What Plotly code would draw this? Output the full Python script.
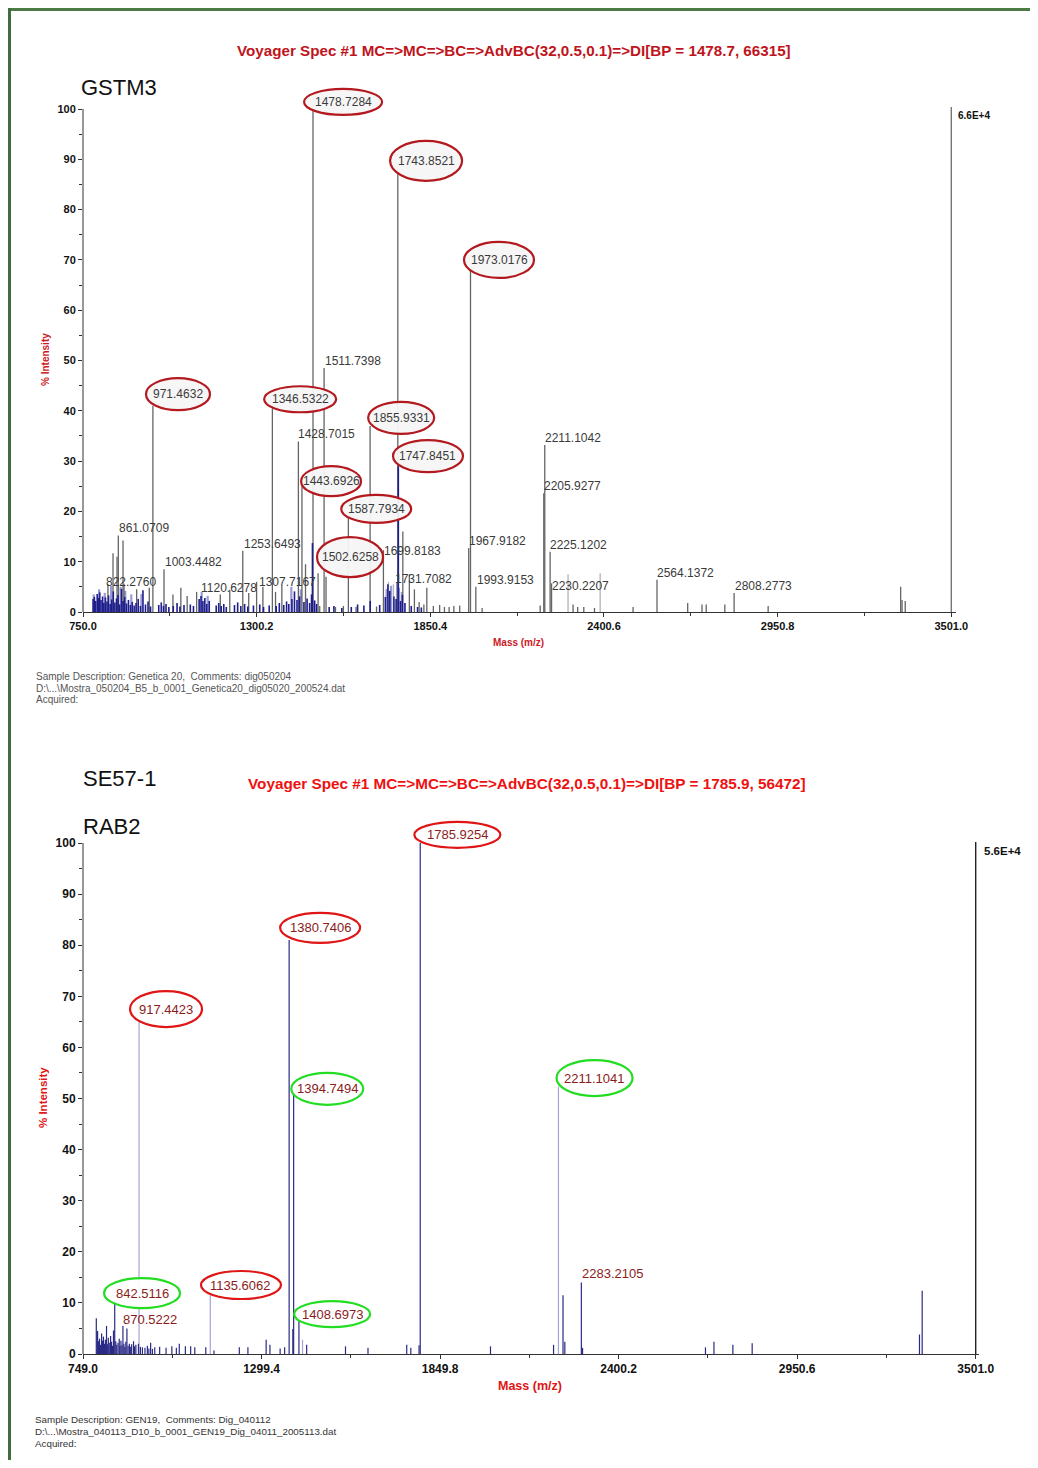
import plotly.graph_objects as go

# page body has an 8px margin: the figure is sized so that it fits in the window
OFF = 8
FW, FH = 1022, 1452

# ===================== DATA : top spectrum (GSTM3) =====================
top_gray_mz = [971.46, 861.9, 876.8, 845.1, 857.8, 1006.7, 1256.2, 1350.0, 1432.4, 1443.7,
               1478.73, 1494.8, 1513.8, 1590.8, 1659.6, 1701.8, 1747.4, 1763.3, 1839.3, 1972.0,
               1977.7, 1994.6, 2209.8, 2213.0, 2230.0, 2234.5, 2568.6, 2812.9, 3340.6, 3345.0,
               3355.0, 2665.8, 2711.2, 2724.5, 2783.5, 2920.7, 2492.8, 2302.6, 2317.2, 2336.6,
               1943.6, 1895.1, 2198.4, 2014.5, 2370.5, 829, 880, 920, 960, 1035, 1060, 1080,
               1110, 1185, 1215, 1275, 1300, 1320, 1360, 1380, 1455, 1500, 1520, 1550, 1575,
               1615, 1680, 1784, 1800, 1815, 1830, 1860, 1880, 1910, 1925]
top_gray_int = [41.0, 15.2, 14.2, 11.7, 11.0, 8.5, 12.2, 40.5, 33.9, 25.0,
                100.0, 7.7, 48.5, 18.7, 37.0, 12.3, 88.0, 16.0, 4.8, 12.7,
                68.0, 5.0, 23.6, 33.2, 12.0, 5.7, 6.4, 3.8, 5.0, 2.4,
                2.2, 1.8, 1.5, 1.5, 1.5, 1.2, 1.0, 1.5, 1.0, 1.0,
                1.3, 1.0, 1.3, 0.8, 0.8, 5.5, 5.6, 4.5, 4.8, 3.5, 4.8, 3.2,
                4.0, 3.5, 4.4, 3.8, 6.0, 5.0, 4.0, 5.2, 9.5, 1.2, 7.0, 1.0, 1.2,
                1.0, 1.1, 7.5, 4.5, 2.0, 1.5, 1.2, 1.4, 1.0, 1.2]
top_lightgray_mz = [2286.8, 2388.5, 1717.7, 1733.5]
top_lightgray_int = [7.5, 7.7, 6.0, 5.5]

top_blue_mz = [782, 786, 790, 795, 799, 803, 807, 812, 816, 821, 826, 831, 836, 841, 846, 851,
               856, 861, 866, 872, 877, 882, 888, 894, 900, 906, 912, 918, 925, 932, 940, 948,
               956, 964, 990, 998, 1005, 1013, 1022, 1036, 1048, 1057, 1070, 1090, 1100, 1118,
               1124, 1130, 1136, 1142, 1150, 1172, 1180, 1188, 1196, 1204, 1230, 1240, 1250,
               1262, 1272, 1290, 1310, 1322, 1340, 1362, 1372, 1386, 1395, 1402, 1412, 1420,
               1428, 1436, 1450, 1460, 1468, 1474, 1477, 1484, 1490, 1530, 1545, 1570, 1600,
               1620, 1640, 1660, 1690, 1708, 1716, 1722, 1735, 1742, 1749, 1750, 1756, 1762,
               1770, 1790, 1810, 1822]
top_blue_int = [2.6, 3.0, 2.2, 3.6, 2.8, 3.9, 2.4, 3.1, 1.8, 2.9, 2.1, 3.3, 1.6, 2.5, 4.1, 1.9,
                2.7, 3.4, 1.5, 4.6, 2.2, 3.0, 1.7, 2.4, 1.4, 2.0, 1.3, 1.8, 2.6, 1.2, 4.3, 1.5,
                2.1, 1.1, 1.4, 1.9, 1.2, 1.6, 1.0, 1.2, 1.8, 1.1, 1.4, 1.5, 1.2, 2.6,
                3.2, 2.2, 2.8, 1.6, 2.2, 1.3, 1.8, 1.2, 1.6, 1.0, 1.4, 1.9, 1.2,
                1.6, 1.1, 1.3, 1.5, 1.0, 1.3, 1.2, 1.8, 1.4, 2.1, 1.6, 2.6, 4.1,
                2.4, 3.1, 2.0, 2.7, 1.8, 3.5, 13.7, 2.3, 1.6, 1.0, 1.2, 0.8, 1.0,
                1.5, 1.3, 2.2, 1.4, 3.0, 5.5, 4.2, 3.1, 2.6, 29.0, 4.8, 2.2, 3.4,
                1.8, 1.2, 1.0, 0.9]
top_lightblue_mz = [784, 801, 819, 839, 869, 884, 903, 935, 1126, 1145, 1410, 1440, 1712, 1726, 1745, 1760]
top_lightblue_int = [3.5, 4.5, 3.8, 5.2, 5.0, 4.2, 3.5, 3.6, 4.0, 3.2, 5.0, 4.5, 4.6, 5.2, 5.8, 4.0]

# label text, label centre (m/z, %), circled?
top_lab_text = ["1478.7284", "1743.8521", "1973.0176", "1511.7398", "971.4632", "1346.5322",
                "1428.7015", "1855.9331", "1747.8451", "1443.6926", "1587.7934", "1502.6258",
                "1699.8183", "861.0709", "1003.4482", "1253.6493", "822.2760", "1120.6278",
                "1307.7167", "1731.7082", "2211.1042", "2205.9277", "1967.9182", "2225.1202",
                "1993.9153", "2230.2207", "2564.1372", "2808.2773"]
top_lab_mz = [1574, 1837, 2068, 1606, 1051, 1438, 1523, 1758, 1843, 1536, 1679, 1596,
              1793, 943, 1099, 1349, 902, 1213, 1397, 1828, 2303, 2300, 2062, 2319,
              2087, 2325, 2658, 2905]
top_lab_y = [101.4, 89.7, 70.0, 49.9, 43.3, 42.3, 35.4, 38.6, 31.0, 26.0, 20.5, 10.9,
             12.1, 16.7, 9.9, 13.5, 6.0, 4.8, 6.0, 6.6, 34.6, 25.0, 14.1, 13.3,
             6.4, 5.2, 7.8, 5.2]
top_lab_ring = ["red", "red", "red", None, "red", "red", None, "red", "red", "red", "red", "red",
                None, None, None, None, None, None, None, None, None, None, None, None,
                None, None, None, None]
top_ring_size = [(78, 26), (72, 40), (70, 36), None, (64, 32), (72, 26), None, (66, 32), (70, 32),
                 (60, 30), (70, 28), (66, 40)] + [None] * 16

top_x_ticks = [750.0, 1300.2, 1850.4, 2400.6, 2950.8, 3501.0]

# ===================== DATA : bottom spectrum (SE57-1 / RAB2) =====================
bot_navy_mz = [846.8, 1384.5, 1398.4, 1395.9, 1414.7, 1788.6, 1785.0, 1747.0, 1759.6, 2228.8,
               2234.4, 2199.6, 2285.3, 2289.0, 2005.2, 1627.6, 1558.2, 1438.5, 1370.6, 1356.7,
               1325.3, 1313.6, 1257.4, 1230.9, 1152.8, 1127.5, 2667.9, 2694.1, 2752.4, 2811.9,
               3327.7, 3336.0,
               1093.6, 1080.9, 1064.6, 1045.8, 1036.8, 1022.9, 1005.0, 985.3, 970.2, 957.5,
               947.4, 932.2, 919.9, 904.8, 884.4, 872.1, 860.7, 834.1, 821.5, 806.4, 794.0,
               790.0, 793, 797, 800, 803, 809, 812, 815, 818, 824, 827, 830, 837, 840, 843,
               850, 853, 857, 863, 866, 869, 875, 878, 881, 888, 892, 896, 899, 908, 912,
               926, 940, 952, 963]
bot_navy_int = [10.6, 81.0, 51.3, 4.9, 6.6, 100.0, 1.7, 1.8, 1.2, 11.5,
                2.4, 1.8, 14.0, 1.2, 1.5, 1.2, 1.5, 1.8, 1.3, 1.1,
                1.8, 2.8, 1.3, 1.3, 0.7, 1.3, 1.3, 2.4, 1.8, 2.1,
                3.8, 12.4,
                1.3, 1.5, 1.5, 2.0, 1.2, 1.5, 1.2, 1.4, 1.3, 2.2,
                1.6, 1.3, 2.0, 2.5, 5.0, 5.5, 3.0, 3.5, 5.5, 4.0, 4.5,
                7.0, 4.2, 2.5, 3.0, 1.8, 2.6, 3.4, 2.0, 2.8, 1.9, 3.2, 2.2, 2.4, 1.6, 4.6,
                2.5, 1.8, 2.2, 1.6, 2.6, 1.7, 2.0, 1.4, 2.4, 1.6, 2.0, 1.4, 1.9, 1.5, 1.8,
                1.4, 1.2, 1.1, 1.0]
bot_lav_mz = [921.8, 2214.7, 1141.4, 1425.8]
bot_lav_int = [65.4, 52.3, 11.5, 2.8]

bot_lab_text = ["1785.9254", "1380.7406", "917.4423", "1394.7494", "2211.1041", "842.5116",
                "870.5222", "1135.6062", "1408.6973", "2283.2105"]
bot_lab_mz = [1903, 1480, 1005, 1502, 2326, 931, 956, 1236, 1517, 2381]
bot_lab_y = [101.6, 83.4, 67.5, 51.9, 54.0, 11.9, 6.8, 13.5, 7.8, 15.7]
bot_lab_ring = ["red", "red", "red", "green", "green", "green", None, "red", "green", None]
bot_ring_size = [(86, 26), (80, 30), (72, 36), (72, 32), (76, 36), (76, 30), None, (80, 28),
                 (76, 26), None]

bot_x_ticks = [749.0, 1299.4, 1849.8, 2400.2, 2950.6, 3501.0]
y_ticks = [0, 10, 20, 30, 40, 50, 60, 70, 80, 90, 100]

# ===================== helpers =====================
def px(x):
    return (x - OFF) / FW

def py(y):
    return 1 - (y - OFF) / FH

def sticks(mzs, ints):
    xs, ys = [], []
    for m, v in zip(mzs, ints):
        xs += [m, m, None]
        ys += [0, v, None]
    return xs, ys

fig = go.Figure()

def add_sticks(mzs, ints, color, width, xa, ya):
    xs, ys = sticks(mzs, ints)
    fig.add_trace(go.Scatter(x=xs, y=ys, mode="lines", line=dict(color=color, width=width),
                             xaxis=xa, yaxis=ya, hoverinfo="skip", showlegend=False))

# top
add_sticks(top_lightblue_mz, top_lightblue_int, "#9a9ad6", 2.2, "x", "y")
add_sticks(top_lightgray_mz, top_lightgray_int, "#b4b4b4", 1.3, "x", "y")
add_sticks(top_gray_mz, top_gray_int, "#646464", 1.3, "x", "y")
add_sticks(top_blue_mz, top_blue_int, "#1e1e8c", 1.6, "x", "y")
add_sticks([top_x_ticks[-1]], [100.4], "#777777", 1.4, "x", "y")
# bottom
add_sticks(bot_lav_mz, bot_lav_int, "#a4a4d6", 1.2, "x2", "y2")
add_sticks(bot_navy_mz, bot_navy_int, "#2a2a86", 1.2, "x2", "y2")
add_sticks([bot_x_ticks[-1]], [100.2], "#222222", 1.4, "x2", "y2")

# axis geometry (reference pixels)
T_X0, T_X1, T_Y0, T_PPU = 83, 951.3, 612, 5.03
B_X0, B_X1, B_Y0, B_PPU = 83, 975.7, 1354, 5.11
YMAX = 108

def xdomain(x0, x1, r0, r1, rmax):
    ppm = (x1 - x0) / (r1 - r0)
    return [px(x0), px(x0 + (rmax - r0) * ppm)]

tickfont_t = dict(family="Liberation Sans, Arial", size=11, color="#111", weight="bold")
tickfont_b = dict(family="Liberation Sans, Arial", size=12, color="#111", weight="bold")

def xaxis(ticks, domain, rmax, tf, anchor):
    minor = [(ticks[i] + ticks[i + 1]) / 2 for i in range(len(ticks) - 1)]
    return dict(domain=domain, range=[ticks[0], rmax], tickvals=ticks,
                ticktext=[f"{t:.1f}" for t in ticks], ticks="outside", ticklen=4,
                tickcolor="#333", showline=True, linecolor="#333", linewidth=1,
                showgrid=False, zeroline=False, tickfont=tf, anchor=anchor, automargin=False,
                minor=dict(tickvals=minor, ticks="outside", ticklen=3, tickcolor="#333"))

def yaxis(domain, tf, anchor):
    return dict(domain=domain, range=[0, YMAX], tickvals=y_ticks, ticks="outside", ticklen=4,
                tickcolor="#333", showline=False, showgrid=False, zeroline=False,
                tickfont=tf, anchor=anchor, automargin=False,
                minor=dict(tickvals=[5, 15, 25, 35, 45, 55, 65, 75, 85, 95], ticks="outside",
                           ticklen=3, tickcolor="#333"))

fig.update_layout(
    width=FW, height=FH, margin=dict(l=0, r=0, t=0, b=0, pad=0, autoexpand=False),
    paper_bgcolor="white", plot_bgcolor="white", showlegend=False,
    xaxis=xaxis(top_x_ticks, xdomain(T_X0, T_X1, 750.0, 3501.0, 3515), 3515, tickfont_t, "y"),
    yaxis=yaxis([py(T_Y0), py(T_Y0 - YMAX * T_PPU)], tickfont_t, "x"),
    xaxis2=xaxis(bot_x_ticks, xdomain(B_X0, B_X1, 749.0, 3501.0, 3510), 3510, tickfont_b, "y2"),
    yaxis2=yaxis([py(B_Y0), py(B_Y0 - YMAX * B_PPU)], tickfont_b, "x2"),
)

shapes = []
annos = []

# manual y axis lines (0..100)
shapes.append(dict(type="line", xref="paper", yref="y", x0=px(T_X0), x1=px(T_X0), y0=0, y1=100,
                   line=dict(color="#333", width=1)))
shapes.append(dict(type="line", xref="paper", yref="y2", x0=px(B_X0), x1=px(B_X0), y0=0, y1=100,
                   line=dict(color="#333", width=1)))

# green frame
shapes.append(dict(type="line", xref="paper", yref="paper", x0=px(8), x1=1, y0=py(9.5), y1=py(9.5),
                   line=dict(color="#4d7a47", width=3)))
shapes.append(dict(type="line", xref="paper", yref="paper", x0=px(9.5), x1=px(9.5), y0=0, y1=py(8),
                   line=dict(color="#3f6e3a", width=3)))

ring_col = {"red_t": "#b3191f", "red": "#e01515", "green": "#22dd22"}

def add_labels(texts, mzs, ys, rings, sizes, xr, yr, color, size, redkey):
    for t, m, y, r, s in zip(texts, mzs, ys, rings, sizes):
        if r is not None:
            c = ring_col[redkey] if r == "red" else ring_col["green"]
            fill = "rgba(246,246,246,0.95)" if redkey == "red_t" else "rgba(255,255,255,0.95)"
            shapes.append(dict(type="circle", xref=xr, yref=yr, xsizemode="pixel",
                               ysizemode="pixel", xanchor=m, yanchor=y,
                               x0=-s[0] / 2, x1=s[0] / 2, y0=-s[1] / 2, y1=s[1] / 2,
                               line=dict(color=c, width=2.2), fillcolor=fill))
        annos.append(dict(x=m, y=y, xref=xr, yref=yr, text=t, showarrow=False,
                          font=dict(family="Liberation Sans, Arial", size=size, color=color)))

add_labels(top_lab_text, top_lab_mz, top_lab_y, top_lab_ring, top_ring_size, "x", "y",
           "#3a3a3a", 12, "red_t")
add_labels(bot_lab_text, bot_lab_mz, bot_lab_y, bot_lab_ring, bot_ring_size, "x2", "y2",
           "#8a1c1c", 13, "red")

def ptext(text, x, y, size, color="#000", bold=False, xanchor="left", yanchor="middle",
          family="Liberation Sans, Arial", angle=0):
    annos.append(dict(text=text, x=px(x), y=py(y), xref="paper", yref="paper", showarrow=False,
                      xanchor=xanchor, yanchor=yanchor, textangle=angle,
                      font=dict(family=family, size=size, color=color,
                                weight="bold" if bold else "normal")))

# titles
ptext("Voyager Spec #1 MC=>MC=>BC=>AdvBC(32,0.5,0.1)=>DI[BP = 1478.7, 66315]", 514, 50, 15.2,
      "#c0141c", True, "center")
ptext("Voyager Spec #1 MC=>MC=>BC=>AdvBC(32,0.5,0.1)=>DI[BP = 1785.9, 56472]", 527, 784, 15.3,
      "#ee1111", True, "center")
ptext("GSTM3", 79, 87, 22, "#111")
ptext("SE57-1", 81, 779, 22, "#111")
ptext("RAB2", 81, 826, 22, "#111")

# axis titles
ptext("% Intensity", 45, 360, 10, "#cc1a1f", True, "center", angle=-90)
ptext("% Intensity", 43, 1098, 11.5, "#e01515", True, "center", angle=-90)
ptext("Mass (m/z)", 518, 642, 10, "#cc1a1f", True, "center")
ptext("Mass (m/z)", 530, 1386, 12.5, "#e01515", True, "center")

# scale markers
annos.append(dict(text="6.6E+4", x=top_x_ticks[-1], y=98.8, xref="x", yref="y", showarrow=False,
                  xanchor="left", xshift=5,
                  font=dict(family="Liberation Sans, Arial", size=10, color="#111", weight="bold")))
annos.append(dict(text="5.6E+4", x=bot_x_ticks[-1], y=98.4, xref="x2", yref="y2", showarrow=False,
                  xanchor="left", xshift=6,
                  font=dict(family="Liberation Sans, Arial", size=11.5, color="#111", weight="bold")))

# footers
ptext("Sample Description: Genetica 20,  Comments: dig050204", 34, 676, 10, "#555")
ptext("D:\\...\\Mostra_050204_B5_b_0001_Genetica20_dig05020_200524.dat", 34, 688, 10, "#555")
ptext("Acquired:", 34, 699, 10, "#555")
ptext("Sample Description: GEN19,  Comments: Dig_040112", 33, 1419, 9.8, "#333")
ptext("D:\\...\\Mostra_040113_D10_b_0001_GEN19_Dig_04011_2005113.dat", 33, 1431, 9.8, "#333")
ptext("Acquired:", 33, 1443, 9.8, "#333")

fig.update_layout(shapes=shapes, annotations=annos)
fig.write_html("out.html")
